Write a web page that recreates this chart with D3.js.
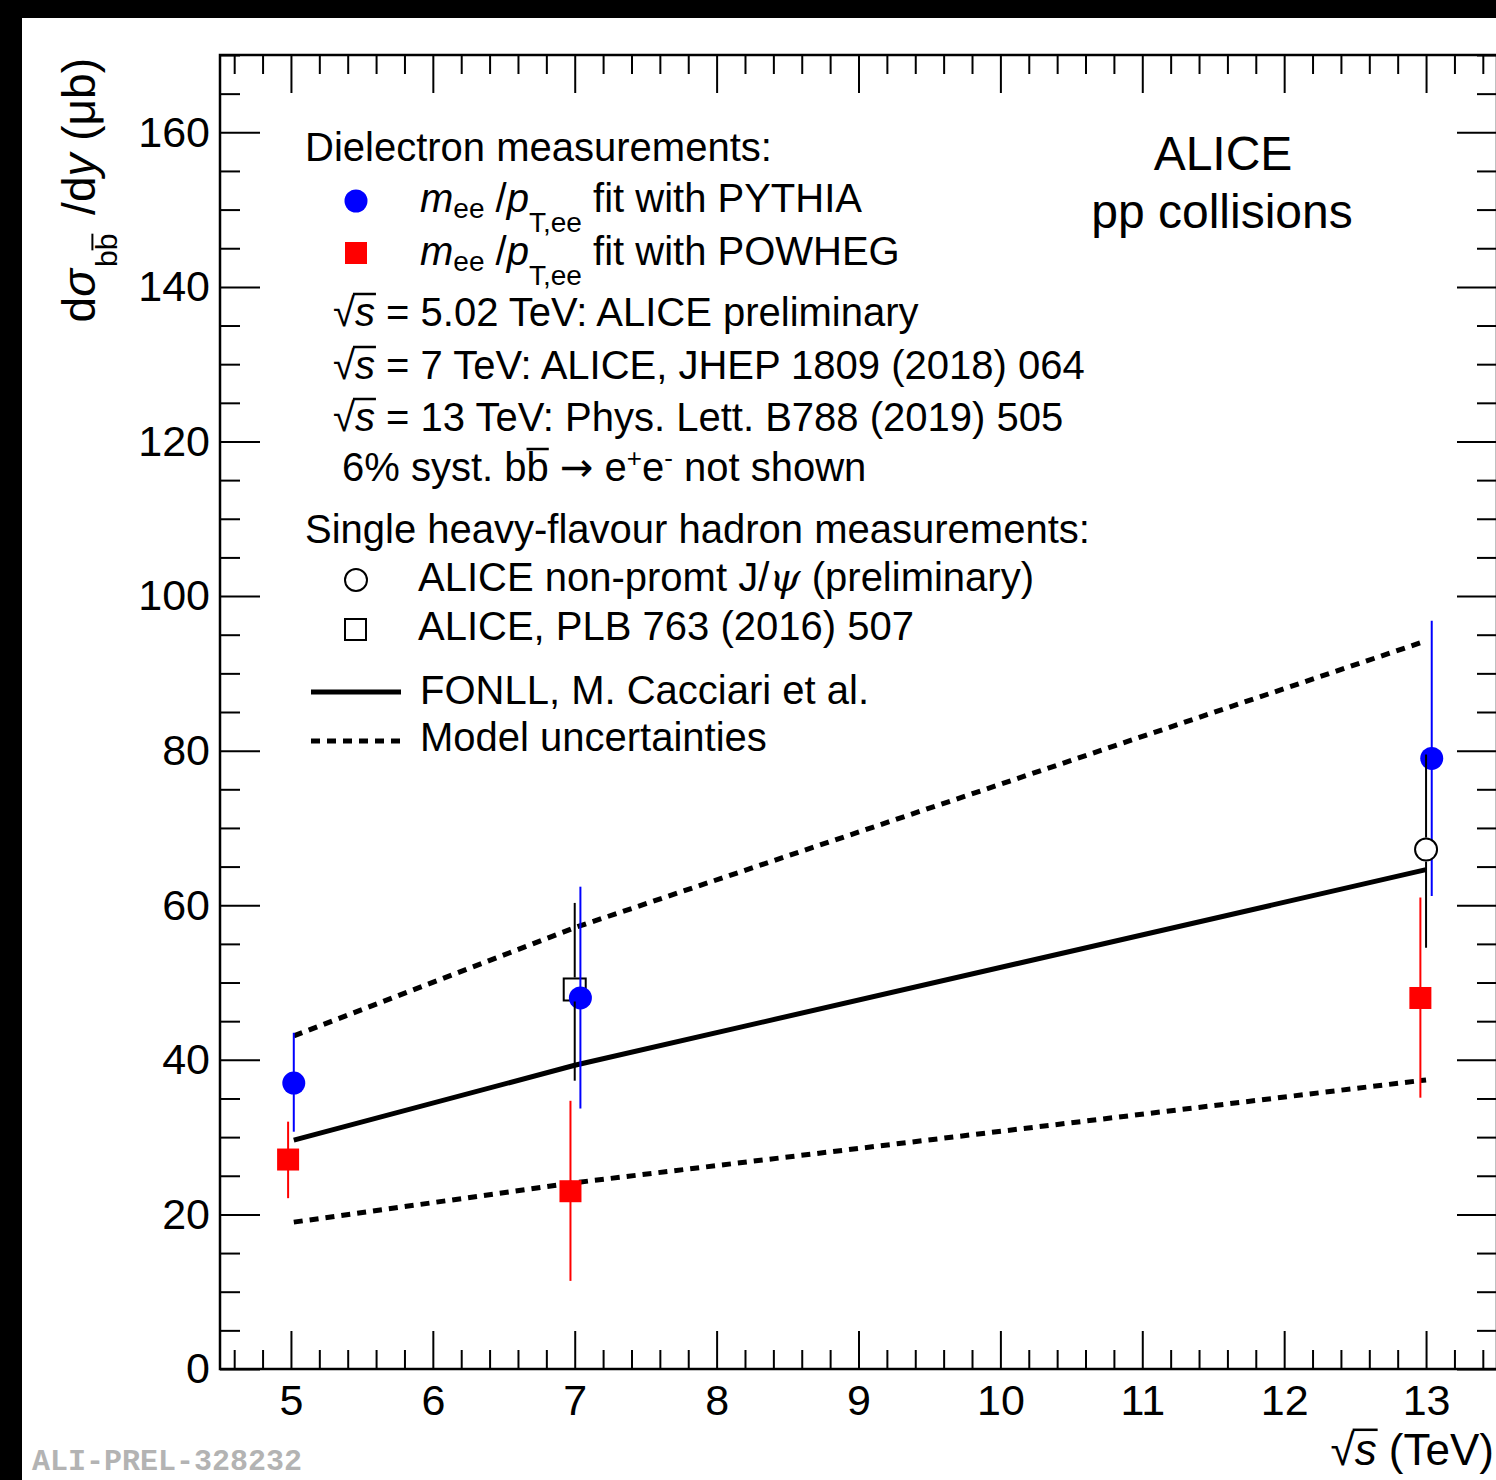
<!DOCTYPE html>
<html>
<head>
<meta charset="utf-8">
<script src="https://cdn.jsdelivr.net/npm/d3@7"></script>
<style>
  body { margin: 0; background: #000; }
  text { font-family: "Liberation Sans", Arial, Helvetica, sans-serif; }
</style>
</head>
<body>
<script>
/* data */

var fonllX = [5.02, 7, 13];
var fonllCentral = [29.6, 39.3, 64.6];
var fonllUpper = [43.1, 57.1, 94.2];
var fonllLower = [19.0, 24.1, 37.4];

var pythiaX = [5.02, 7.04, 13.04];
var pythiaY = [37.0, 48.0, 79.0];
var pythiaLo = [30.7, 33.7, 61.2];
var pythiaHi = [43.5, 62.4, 96.8];

var powhegX = [4.98, 6.97, 12.96];
var powhegY = [27.1, 23.0, 48.0];
var powhegLo = [22.1, 11.4, 35.1];
var powhegHi = [32.0, 34.7, 61.0];

var jpsiX = [13.0];
var jpsiY = [67.2];
var jpsiLo = [54.5];
var jpsiHi = [79.5];

var plbX = [7.0];
var plbY = [49.1];
var plbLo = [37.3];
var plbHi = [60.3];

var xMajor = [5, 6, 7, 8, 9, 10, 11, 12, 13];
var yMajor = [0, 20, 40, 60, 80, 100, 120, 140, 160];

/* canvas */

var width = 1496;
var height = 1480;
var frame = { left: 220, top: 55, right: 1497, bottom: 1369 };

var svg = d3.select('body').
append('svg').
attr('width', width).
attr('height', height);

svg.append('rect').attr('width', width).attr('height', height).attr('fill', '#000');
svg.append('rect').attr('x', 22).attr('y', 18).attr('width', width - 22).attr('height', height - 18).attr('fill', '#fff');

var x = d3.scaleLinear().domain([4.5, 13.5]).range([frame.left, frame.right]);
var y = d3.scaleLinear().domain([0, 170]).range([frame.bottom, frame.top]);

var xMinor = d3.range(4.6, 13.41, 0.2).filter(function (v) {return Math.abs(v - Math.round(v)) > 0.01;});
var yMinor = d3.range(0, 171, 5).filter(function (v) {return v % 20 !== 0;});

/* helpers for bars over letters (sqrt and b-bar) */

function barOver(parent, fromSpan, toSpan, py, sw) {
      var a = fromSpan.node().getStartPositionOfChar(0).x;
      var n = toSpan.node().getNumberOfChars();
      var b = toSpan.node().getEndPositionOfChar(n - 1).x;
      parent.append('line').
      attr('x1', a).attr('x2', b).attr('y1', py).attr('y2', py).
      attr('stroke', '#000').attr('stroke-width', sw || 2.5);
}

function sqrtBar(parent, rootSpan, sSpan, baseY, fs) {
      var a = rootSpan.node().getEndPositionOfChar(0).x - 2;
      var b = sSpan.node().getEndPositionOfChar(0).x + 1;
      parent.append('line').
      attr('x1', a).attr('x2', b).
      attr('y1', baseY - 0.8 * fs).attr('y2', baseY - 0.8 * fs).
      attr('stroke', '#000').attr('stroke-width', 2.5);
}

/* axes */

function styleAxis(g) {
      g.select('.domain').remove();
      g.selectAll('line').attr('stroke', '#000').attr('stroke-width', 2);
      g.selectAll('text').style('font-size', '43px').style('font-family', '"Liberation Sans", Arial, sans-serif').style('fill', '#000');
}

svg.append('g').attr('transform', 'translate(0,' + frame.bottom + ')').
call(d3.axisBottom(x).tickValues(xMajor).tickSize(-38).tickPadding(15).tickFormat(d3.format('d'))).call(styleAxis);
svg.append('g').attr('transform', 'translate(0,' + frame.bottom + ')').
call(d3.axisBottom(x).tickValues(xMinor).tickSize(-19).tickFormat('')).call(styleAxis);
svg.append('g').attr('transform', 'translate(0,' + frame.top + ')').
call(d3.axisTop(x).tickValues(xMajor).tickSize(-38).tickFormat('')).call(styleAxis);
svg.append('g').attr('transform', 'translate(0,' + frame.top + ')').
call(d3.axisTop(x).tickValues(xMinor).tickSize(-19).tickFormat('')).call(styleAxis);

svg.append('g').attr('transform', 'translate(' + frame.left + ',0)').
call(d3.axisLeft(y).tickValues(yMajor).tickSize(-40).tickPadding(10).tickFormat(d3.format('d'))).call(styleAxis);
svg.append('g').attr('transform', 'translate(' + frame.left + ',0)').
call(d3.axisLeft(y).tickValues(yMinor).tickSize(-20).tickFormat('')).call(styleAxis);
svg.append('g').attr('transform', 'translate(' + frame.right + ',0)').
call(d3.axisRight(y).tickValues(yMajor).tickSize(-40).tickFormat('')).call(styleAxis);
svg.append('g').attr('transform', 'translate(' + frame.right + ',0)').
call(d3.axisRight(y).tickValues(yMinor).tickSize(-20).tickFormat('')).call(styleAxis);

svg.append('rect').
attr('x', frame.left).attr('y', frame.top).
attr('width', frame.right - frame.left).attr('height', frame.bottom - frame.top).
attr('fill', 'none').attr('stroke', '#000').attr('stroke-width', 2.5);

/* axis titles */

var xTitle = svg.append('text').
attr('x', 1494).attr('y', 1465).attr('text-anchor', 'end').style('font-size', '44px');
var xRoot = xTitle.append('tspan').text('\u221A');
var xS = xTitle.append('tspan').style('font-style', 'italic').text('s');
xTitle.append('tspan').text(' (TeV)');
sqrtBar(svg, xRoot, xS, 1465, 44);

var yTitleG = svg.append('g').attr('transform', 'translate(95,58) rotate(-90)');
var yTitle = yTitleG.append('text').
attr('text-anchor', 'end').style('font-size', '46px');
yTitle.append('tspan').text('d');
yTitle.append('tspan').style('font-style', 'italic').text('\u03C3');
var sub1 = yTitle.append('tspan').attr('dy', 22).attr('dx', 2).style('font-size', '30px').text('b');
var sub2 = yTitle.append('tspan').style('font-size', '30px').text('b');
yTitle.append('tspan').attr('dy', -22).attr('dx', 6).text(' /d');
yTitle.append('tspan').style('font-style', 'italic').text('y');
yTitle.append('tspan').text(' (\u03BCb)');
barOver(yTitleG, sub2, sub2, 22 - 0.82 * 30, 2);

/* model curves */

var line = d3.line().x(function (d) {return x(d[0]);}).y(function (d) {return y(d[1]);});

function curve(vals, dash, w) {
      svg.append('path').
      attr('d', line(d3.zip(fonllX, vals))).
      attr('fill', 'none').attr('stroke', '#000').attr('stroke-width', w).
      attr('stroke-dasharray', dash);
}
curve(fonllUpper, '9,7', 5);
curve(fonllLower, '9,7', 5);
curve(fonllCentral, null, 5);

/* data points */

function errBars(xs, lo, hi, colour) {
      xs.forEach(function (xv, i) {
            svg.append('line').
            attr('x1', x(xv)).attr('x2', x(xv)).
            attr('y1', y(hi[i])).attr('y2', y(lo[i])).
            attr('stroke', colour).attr('stroke-width', 2);
      });
}

function openBars(xs, ys, lo, hi, gap) {
      xs.forEach(function (xv, i) {
            svg.append('line').
            attr('x1', x(xv)).attr('x2', x(xv)).
            attr('y1', y(hi[i])).attr('y2', y(ys[i]) - gap).
            attr('stroke', '#000').attr('stroke-width', 2);
            svg.append('line').
            attr('x1', x(xv)).attr('x2', x(xv)).
            attr('y1', y(ys[i]) + gap).attr('y2', y(lo[i])).
            attr('stroke', '#000').attr('stroke-width', 2);
      });
}

errBars(powhegX, powhegLo, powhegHi, '#ff0000');
svg.selectAll('.powheg').
data(d3.zip(powhegX, powhegY)).
enter().
append('rect').
attr('class', 'powheg').
attr('x', function (d) {return x(d[0]) - 11;}).
attr('y', function (d) {return y(d[1]) - 11;}).
attr('width', 22).attr('height', 22).
attr('fill', '#ff0000');

svg.selectAll('.plb').
data(d3.zip(plbX, plbY)).
enter().
append('rect').
attr('class', 'plb').
attr('x', function (d) {return x(d[0]) - 11;}).
attr('y', function (d) {return y(d[1]) - 11;}).
attr('width', 22).attr('height', 22).
attr('fill', 'none').attr('stroke', '#000').attr('stroke-width', 2);

errBars(pythiaX, pythiaLo, pythiaHi, '#0000ff');
svg.selectAll('.pythia').
data(d3.zip(pythiaX, pythiaY)).
enter().
append('circle').
attr('class', 'pythia').
attr('cx', function (d) {return x(d[0]);}).
attr('cy', function (d) {return y(d[1]);}).
attr('r', 11.5).
attr('fill', '#0000ff');

openBars(plbX, plbY, plbLo, plbHi, 12);
openBars(jpsiX, jpsiY, jpsiLo, jpsiHi, 12);

svg.selectAll('.jpsi').
data(d3.zip(jpsiX, jpsiY)).
enter().
append('circle').
attr('class', 'jpsi').
attr('cx', function (d) {return x(d[0]);}).
attr('cy', function (d) {return y(d[1]);}).
attr('r', 11).
attr('fill', '#fff').attr('stroke', '#000').attr('stroke-width', 2);

/* legend */

var legend = svg.append('g').style('font-size', '40px');

function addText(px, py) {
      return legend.append('text').attr('x', px).attr('y', py);
}

addText(305, 161).text('Dielectron measurements:');

legend.append('circle').attr('cx', 356).attr('cy', 201).attr('r', 11.5).attr('fill', '#0000ff');
legend.append('rect').attr('x', 345).attr('y', 242).attr('width', 22).attr('height', 22).attr('fill', '#ff0000');

function mptText(py, tail) {
      var t = addText(420, py);
      t.append('tspan').style('font-style', 'italic').text('m');
      t.append('tspan').attr('dy', 6).style('font-size', '28px').text('ee');
      t.append('tspan').attr('dy', -6).text(' /');
      t.append('tspan').style('font-style', 'italic').text('p');
      t.append('tspan').attr('dy', 20).style('font-size', '28px').text('T,ee');
      t.append('tspan').attr('dy', -20).text(' ' + tail);
}
mptText(212, 'fit with PYTHIA');
mptText(265, 'fit with POWHEG');

function sqrtText(py, tail) {
      var t = addText(333, py);
      var r = t.append('tspan').text('\u221A');
      var s = t.append('tspan').style('font-style', 'italic').text('s');
      t.append('tspan').text(' = ' + tail);
      sqrtBar(legend, r, s, py, 40);
}
sqrtText(326, '5.02 TeV: ALICE preliminary');
sqrtText(379, '7 TeV: ALICE, JHEP 1809 (2018) 064');
sqrtText(431, '13 TeV: Phys. Lett. B788 (2019) 505');

var syst = addText(342, 481);
syst.append('tspan').text('6% syst. b');
var bbar = syst.append('tspan').text('b');
syst.append('tspan').text(' ');
syst.append('tspan').style('font-family', '"DejaVu Sans", sans-serif').text('\u2192');
syst.append('tspan').text(' e');
syst.append('tspan').attr('dy', -14).style('font-size', '26px').text('+');
syst.append('tspan').attr('dy', 14).text('e');
syst.append('tspan').attr('dy', -14).style('font-size', '26px').text('-');
syst.append('tspan').attr('dy', 14).text(' not shown');
barOver(legend, bbar, bbar, 481 - 0.8 * 40, 2.5);

addText(305, 543).text('Single heavy-flavour hadron measurements:');

legend.append('circle').attr('cx', 356).attr('cy', 580).attr('r', 11).attr('fill', 'none').attr('stroke', '#000').attr('stroke-width', 2);
legend.append('rect').attr('x', 345).attr('y', 619).attr('width', 21).attr('height', 21).attr('fill', 'none').attr('stroke', '#000').attr('stroke-width', 2);

var jp = addText(418, 591);
jp.append('tspan').text('ALICE non-promt J/');
jp.append('tspan').style('font-style', 'italic').style('font-family', '"DejaVu Serif", serif').text('\u03C8');
jp.append('tspan').text(' (preliminary)');
addText(418, 640).text('ALICE, PLB 763 (2016) 507');

legend.append('line').attr('x1', 311).attr('x2', 401).attr('y1', 692).attr('y2', 692).attr('stroke', '#000').attr('stroke-width', 5);
addText(420, 704).text('FONLL, M. Cacciari et al.');
legend.append('line').attr('x1', 311).attr('x2', 401).attr('y1', 741).attr('y2', 741).attr('stroke', '#000').attr('stroke-width', 5).attr('stroke-dasharray', '9,7');
addText(420, 751).text('Model uncertainties');

/* labels */

svg.append('text').attr('x', 1223).attr('y', 170).attr('text-anchor', 'middle').style('font-size', '48px').text('ALICE');
svg.append('text').attr('x', 1222).attr('y', 228).attr('text-anchor', 'middle').style('font-size', '48px').text('pp collisions');

svg.append('text').attr('x', 32).attr('y', 1470).
style('font-family', '"Liberation Mono", "DejaVu Sans Mono", monospace').
style('font-weight', 'bold').style('font-size', '30px').style('fill', '#b3b3b3').
text('ALI-PREL-328232');
</script>
</body>
</html>
